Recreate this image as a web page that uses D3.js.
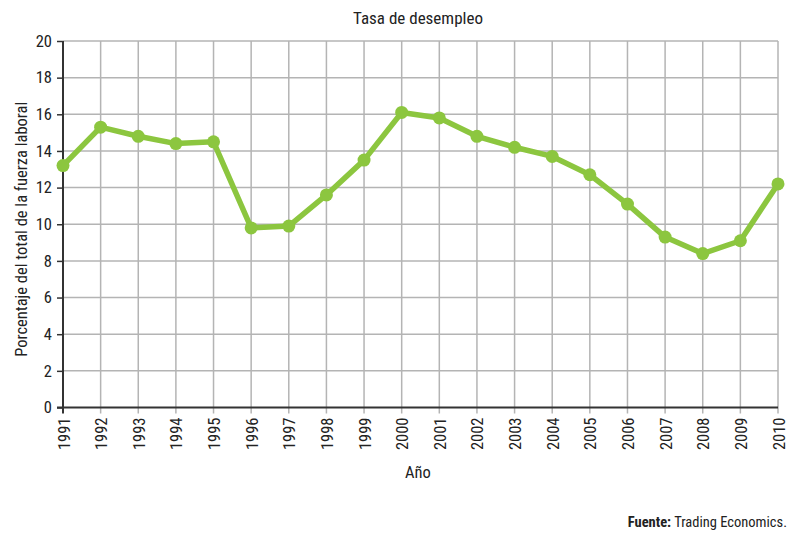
<!DOCTYPE html>
<html lang="es">
<head>
    <meta charset="UTF-8" />
    <title>Tasa de desempleo</title>
    <style>
        body { margin: 0; background: #fff; }
        svg text {
            font-family: "Liberation Sans Narrow", "Roboto Condensed", "Roboto", sans-serif;
            fill: #222;
        }
        .grid line { stroke: #b4b4b4; stroke-width: 1.5px; }
        .axis-line { stroke: #333; stroke-width: 2px; }
    </style>
</head>
<body>
    <div id="chart"></div>

    <script src="https://d3js.org/d3.v7.min.js"></script>
    <script>
        // datos
        const years = ['1991', '1992', '1993', '1994', '1995', '1996', '1997', '1998', '1999', '2000',
                       '2001', '2002', '2003', '2004', '2005', '2006', '2007', '2008', '2009', '2010'];
        const desempleo = [13.2, 15.3, 14.8, 14.4, 14.5, 9.8, 9.9, 11.6, 13.5, 16.1,
                           15.8, 14.8, 14.2, 13.7, 12.7, 11.1, 9.3, 8.4, 9.1, 12.2];
        const yTicks = [0, 2, 4, 6, 8, 10, 12, 14, 16, 18, 20];

        const width = 797, height = 542;
        const plotLeft = 63, plotRight = 778, plotTop = 41, plotBottom = 407.5;

        const svg = d3.select('#chart').append('svg')
            .attr('width', width)
            .attr('height', height);

        const x = d3.scalePoint()
            .domain(years)
            .range([plotLeft, plotRight]);

        const y = d3.scaleLinear()
            .domain([0, 20])
            .range([plotBottom, plotTop]);

        // rejilla
        const grid = svg.append('g').attr('class', 'grid');
        grid.selectAll('.h')
            .data(yTicks.slice(1))
            .enter().append('line')
            .attr('x1', plotLeft).attr('x2', plotRight)
            .attr('y1', d => y(d)).attr('y2', d => y(d));
        grid.selectAll('.v')
            .data(years.slice(1))
            .enter().append('line')
            .attr('x1', d => x(d)).attr('x2', d => x(d))
            .attr('y1', plotTop).attr('y2', plotBottom + 6);

        // ejes
        svg.append('line').attr('class', 'axis-line')
            .attr('x1', plotLeft).attr('x2', plotLeft)
            .attr('y1', plotTop).attr('y2', plotBottom + 6);
        svg.append('line').attr('class', 'axis-line')
            .attr('x1', plotLeft - 6).attr('x2', plotRight)
            .attr('y1', plotBottom).attr('y2', plotBottom);

        const yAxis = svg.append('g')
            .attr('transform', `translate(${plotLeft},0)`)
            .call(d3.axisLeft(y).tickValues(yTicks).tickSize(6).tickPadding(5));
        yAxis.select('.domain').remove();
        yAxis.selectAll('.tick line').attr('stroke', '#333').attr('stroke-width', 1.5);
        yAxis.selectAll('.tick text')
            .style('font-size', '16.5px')
            .attr('fill', '#222');

        const xAxis = svg.append('g')
            .attr('transform', `translate(0,${plotBottom})`)
            .call(d3.axisBottom(x).tickSize(0).tickPadding(0));
        xAxis.select('.domain').remove();
        xAxis.selectAll('.tick text')
            .style('font-size', '16.5px')
            .attr('fill', '#222')
            .attr('text-anchor', 'end')
            .attr('dy', null)
            .attr('y', 0)
            .attr('transform', 'translate(6,10) rotate(-90)');

        // línea
        const line = d3.line()
            .x((d, i) => x(years[i]))
            .y(d => y(d));

        svg.append('path')
            .datum(desempleo)
            .attr('d', line)
            .attr('fill', 'none')
            .attr('stroke', '#8cc63f')
            .attr('stroke-width', 5.5)
            .attr('stroke-linejoin', 'round');

        svg.append('g')
            .selectAll('circle')
            .data(desempleo)
            .enter().append('circle')
            .attr('cx', (d, i) => x(years[i]))
            .attr('cy', d => y(d))
            .attr('r', 6.5)
            .attr('fill', '#8cc63f');

        // textos
        svg.append('text')
            .attr('x', 418).attr('y', 24)
            .attr('text-anchor', 'middle')
            .style('font-size', '17px')
            .text('Tasa de desempleo');

        svg.append('text')
            .attr('transform', `translate(27,${(plotTop + plotBottom) / 2 + 5}) rotate(-90)`)
            .attr('text-anchor', 'middle')
            .style('font-size', '16.5px')
            .text('Porcentaje del total de la fuerza laboral');

        svg.append('text')
            .attr('x', 418).attr('y', 478)
            .attr('text-anchor', 'middle')
            .style('font-size', '16.5px')
            .text('Año');

        const fuente = svg.append('text')
            .attr('x', 787).attr('y', 527)
            .attr('text-anchor', 'end')
            .style('font-size', '14.5px');
        fuente.append('tspan').attr('font-weight', 'bold').text('Fuente:');
        fuente.append('tspan').text(' Trading Economics.');
    </script>
</body>
</html>
